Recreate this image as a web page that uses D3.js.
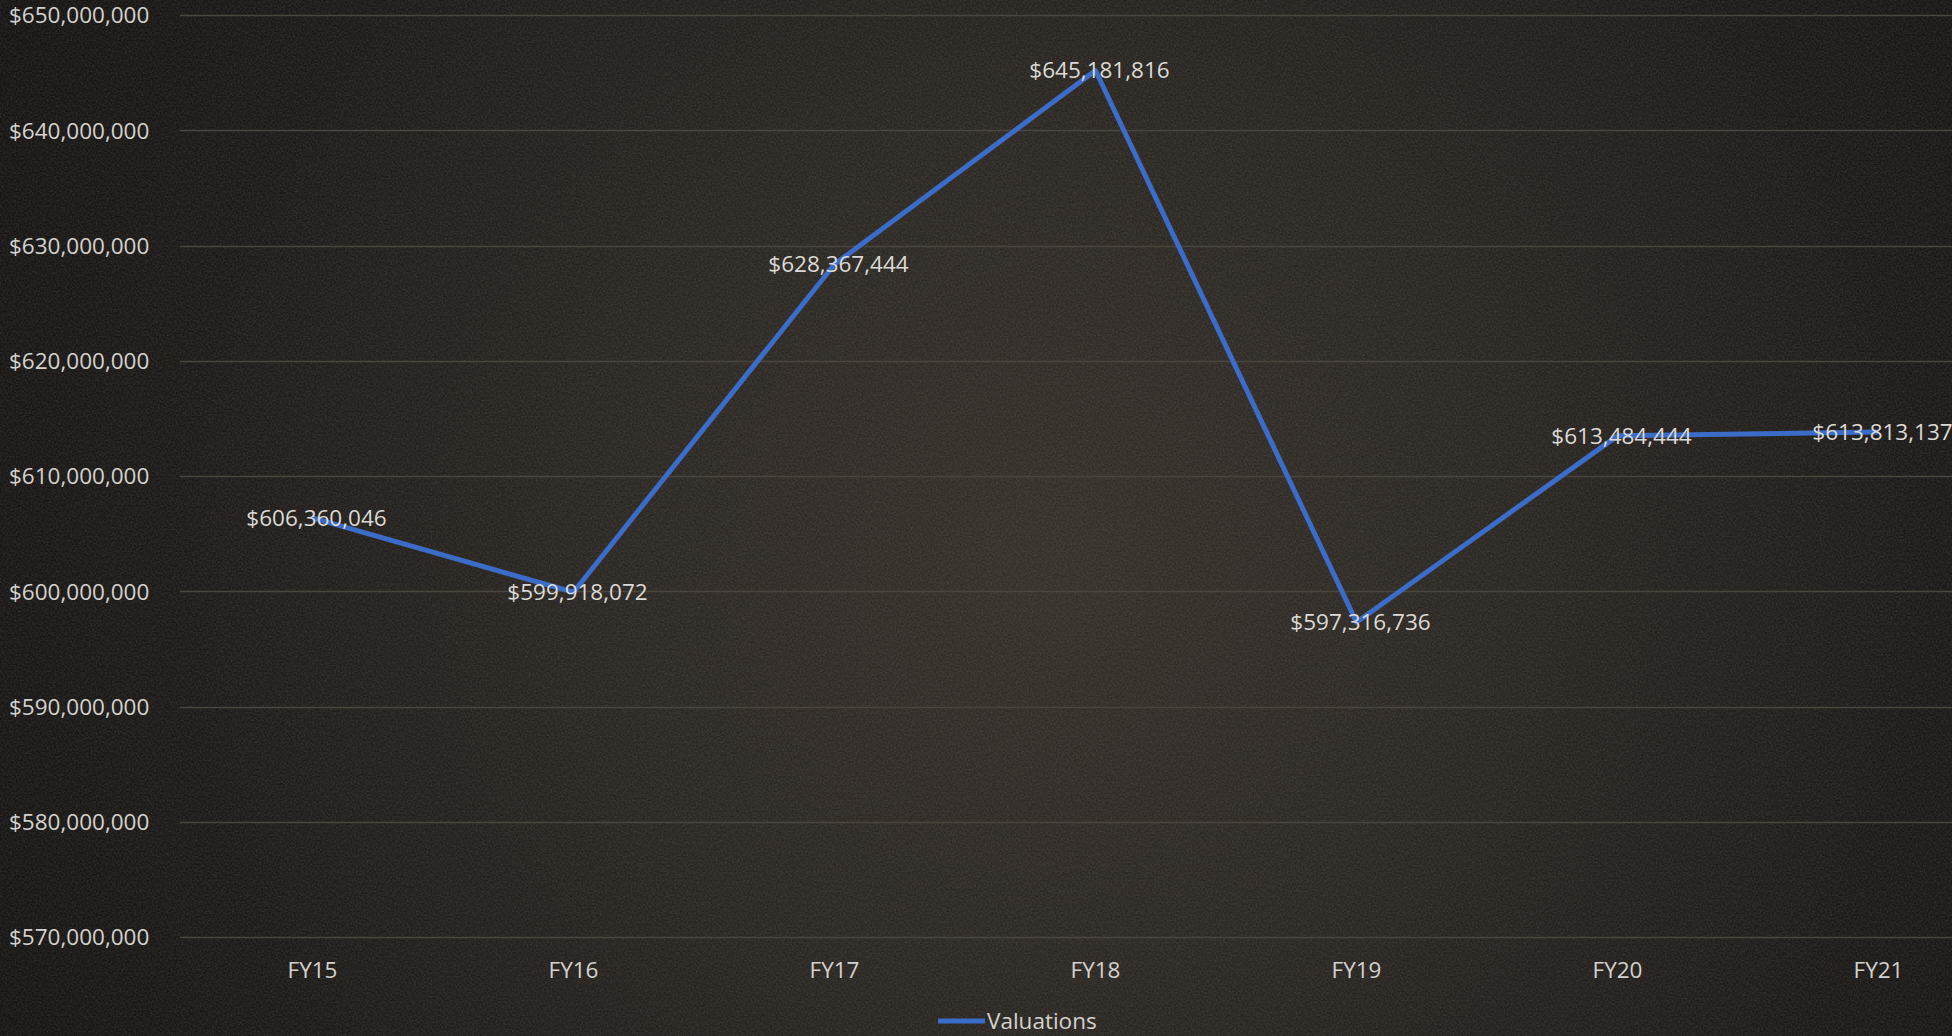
<!DOCTYPE html>
<html>
<head>
<meta charset="utf-8">
<script src="https://cdn.jsdelivr.net/npm/d3@7/dist/d3.min.js"></script>
<style>
  html, body { margin: 0; padding: 0; background: #1a1816; overflow: hidden; }
  svg { display: block; }
</style>
</head>
<body>
<svg id="chart" width="1952" height="1036"></svg>
<script>
// Fiscal-year valuations
const years = ["FY15", "FY16", "FY17", "FY18", "FY19", "FY20", "FY21"];
const valuations = [606360046, 599918072, 628367444, 645181816, 597316736, 613484444, 613813137];
const yTicks = [570000000, 580000000, 590000000, 600000000, 610000000, 620000000, 630000000, 640000000, 650000000];
const seriesName = "Valuations";

const W = 1952, H = 1036;
const svg = d3.select("#chart");
const defs = svg.append("defs");

// Dark brown backdrop, lighter toward the centre
const bg = defs.append("radialGradient").attr("id", "bg")
  .attr("gradientUnits", "userSpaceOnUse")
  .attr("cx", 1050).attr("cy", 560).attr("r", 1150);
bg.append("stop").attr("offset", "0%").attr("stop-color", "#35302a");
bg.append("stop").attr("offset", "40%").attr("stop-color", "#2a2622");
bg.append("stop").attr("offset", "75%").attr("stop-color", "#1c1a18");
bg.append("stop").attr("offset", "100%").attr("stop-color", "#151413");

// Grain over the backdrop
const grain = defs.append("filter").attr("id", "grain")
  .attr("x", 0).attr("y", 0).attr("width", "100%").attr("height", "100%");
grain.append("feTurbulence").attr("type", "fractalNoise")
  .attr("baseFrequency", 0.55).attr("numOctaves", 2).attr("seed", 7).attr("result", "n");
grain.append("feColorMatrix").attr("in", "n").attr("type", "matrix")
  .attr("values", "0 0 0 0 0.5  0 0 0 0 0.45  0 0 0 0 0.4  0.7 0 0 0 -0.2");

svg.append("rect").attr("width", W).attr("height", H).attr("fill", "url(#bg)");
svg.append("rect").attr("width", W).attr("height", H).attr("filter", "url(#grain)").attr("opacity", 0.35);

// Plot area: the last category band runs past the right edge
const plotLeft = 182, step = 261;
const x = d3.scaleBand().domain(years).range([plotLeft, plotLeft + step * years.length]).paddingInner(0).paddingOuter(0);
const y = d3.scaleLinear().domain([570000000, 650000000]).range([937, 15]);

const fmt = d3.format("$,.0f");
const font = "'Open Sans', 'DejaVu Sans', sans-serif";
const fs = "22.5px";

// Horizontal gridlines
svg.append("g").selectAll("line").data(yTicks).join("line")
  .attr("x1", 180).attr("x2", W)
  .attr("y1", d => Math.round(y(d)) + 0.5).attr("y2", d => Math.round(y(d)) + 0.5)
  .attr("stroke", "#4a463e").attr("stroke-width", 1.3);

// Y axis labels
const yAxis = d3.axisLeft(y).tickValues(yTicks).tickFormat(fmt).tickSize(0).tickPadding(0);
const gy = svg.append("g").attr("transform", "translate(9,0)").call(yAxis);
gy.select(".domain").remove();
gy.selectAll("text")
  .attr("text-anchor", "start").attr("x", 0).attr("dy", "0.35em")
  .attr("fill", "#d4d2ce").style("font-family", font).style("font-size", fs);

// X axis labels
const xAxis = d3.axisBottom(x).tickSize(0).tickPadding(0);
const gx = svg.append("g").attr("transform", "translate(0,970)").call(xAxis);
gx.select(".domain").remove();
gx.selectAll("text")
  .attr("y", 0).attr("dy", "0.35em")
  .attr("fill", "#d4d2ce").style("font-family", font).style("font-size", fs);

const cx = d => x(d) + x.bandwidth() / 2;
const pts = years.map((yr, i) => ({ yr, v: valuations[i] }));

// Series line
svg.append("path").datum(pts)
  .attr("fill", "none").attr("stroke", "#3b6cc8").attr("stroke-width", 5)
  .attr("stroke-linejoin", "round")
  .attr("d", d3.line().x(d => cx(d.yr)).y(d => y(d.v)));

// Data labels centred on each point
svg.append("g").selectAll("text").data(pts).join("text")
  .attr("x", d => cx(d.yr) + 4).attr("y", d => y(d.v))
  .attr("dy", "0.35em").attr("text-anchor", "middle")
  .attr("fill", "#dcdad6").style("font-family", font).style("font-size", fs)
  .text(d => fmt(d.v));

// Legend
const lg = svg.append("g").attr("transform", "translate(938,1021)");
lg.append("line").attr("x1", 0).attr("x2", 47).attr("y1", 0).attr("y2", 0)
  .attr("stroke", "#3b6cc8").attr("stroke-width", 5);
lg.append("text").attr("x", 49).attr("y", 0).attr("dy", "0.35em")
  .attr("fill", "#d4d2ce").style("font-family", font).style("font-size", fs)
  .text(seriesName);
</script>
</body>
</html>
